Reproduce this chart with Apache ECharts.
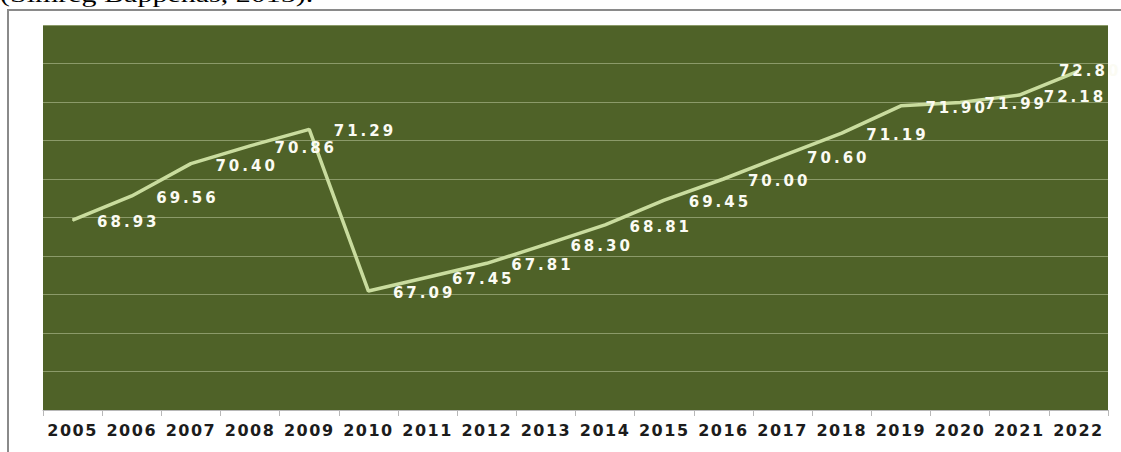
<!DOCTYPE html>
<html>
<head>
<meta charset="utf-8">
<script src="https://cdn.jsdelivr.net/npm/echarts@6/dist/echarts.min.js"></script>
<style>
    html, body { margin: 0; padding: 0; background: #fff; }
    #chart { width: 1121px; height: 452px; }
</style>
</head>
<body>
<div id="chart"></div>
<script>
    var years = ['2005', '2006', '2007', '2008', '2009', '2010', '2011', '2012', '2013',
        '2014', '2015', '2016', '2017', '2018', '2019', '2020', '2021', '2022'];
    var ipm = [68.93, 69.56, 70.40, 70.86, 71.29, 67.09, 67.45, 67.81, 68.30,
        68.81, 69.45, 70.00, 70.60, 71.19, 71.90, 71.99, 72.18, 72.80];
    var yMin = 64, yMax = 74, yStep = 1;
    var caption = '(Simreg Bappenas, 2015).';

    var lineColor = '#C9DC9E';
    var labelFont = {color: '#fbfbf3', fontFamily: 'DejaVu Sans', fontWeight: 'bold', fontSize: 15};

    // last label sits left of its point (it would run off the plot otherwise)
    var lineData = ipm.map(function (v, i) {
        if (i === ipm.length - 1) {
            return {value: v, label: {distance: 0, offset: [-20, 0]}};
        }
        return v;
    });

    var chart = echarts.init(document.getElementById('chart'), null, {renderer: 'svg'});

    // spread the digits a little, like the original labels
    chart.on('finished', function () {
        var texts = document.querySelectorAll('#chart text');
        texts.forEach(function (t) {
            var s = t.textContent;
            if (/^\d\d\.\d\d$/.test(s)) t.style.letterSpacing = '3px';
            else if (/^\d{4}$/.test(s)) t.style.letterSpacing = '1.5px';
        });
    });

    chart.setOption({
        animation: false,
        backgroundColor: '#fff',
        grid: {left: 43, right: 13, top: 25, bottom: 42, show: true, backgroundColor: '#4F6228', borderWidth: 0},
        xAxis: {
            type: 'category', data: years, boundaryGap: true,
            axisLine: {show: true, lineStyle: {color: '#b8b8b8', width: 1}},
            axisTick: {show: true, length: 6, lineStyle: {color: '#b8b8b8'}},
            axisLabel: {interval: 0, margin: 12, color: '#1c1c1c', fontFamily: 'DejaVu Sans', fontWeight: 'bold', fontSize: 16}
        },
        yAxis: {
            type: 'value', min: yMin, max: yMax, interval: yStep,
            axisLine: {show: false}, axisTick: {show: false}, axisLabel: {show: false},
            splitLine: {show: true, lineStyle: {color: 'rgba(200,210,170,0.5)', width: 1}}
        },
        graphic: [
            {type: 'rect', shape: {x: 8, y: 10, width: 1200, height: 500},
                style: {fill: 'none', stroke: '#8a8a8a', lineWidth: 2}},
            {type: 'text', x: 0, y: 0, scaleX: 1.5,
                style: {text: caption, x: 0, y: -5, verticalAlign: 'middle', fill: '#000',
                    font: '20px "Liberation Serif"'}}
        ],
        series: [{
            type: 'line', data: lineData, symbol: 'circle', symbolSize: 1,
            itemStyle: {color: lineColor},
            lineStyle: {color: lineColor, width: 3.5},
            label: Object.assign({
                show: true, position: 'right', distance: 24, offset: [0, 2],
                formatter: function (p) { return p.value.toFixed(2); }
            }, labelFont)
        }]
    });
</script>
</body>
</html>
